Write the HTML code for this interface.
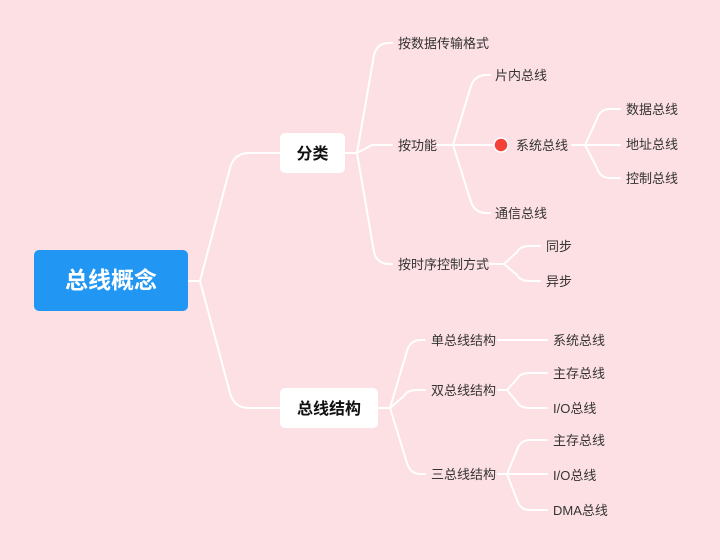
<!DOCTYPE html>
<html><head><meta charset="utf-8"><style>
body{margin:0;width:720px;height:560px;background:#fde0e4;overflow:hidden}
svg{display:block}
text{font-family:"Liberation Sans","Noto Sans CJK SC",sans-serif;fill:#333;font-size:13px;dominant-baseline:middle}
</style></head><body>
<svg width="720" height="560" viewBox="0 0 720 560">
<rect width="720" height="560" fill="#fde0e4"/>
<g fill="none" stroke="#fff" stroke-width="2" stroke-linecap="round">
<path d="M188 281 H200 L230 168 Q234 153 249 153 H280"/>
<path d="M200 281 L230 393 Q234 408 249 408 H280"/>
<path d="M345 153 H357 L374 55 Q377 43 389 43 H392"/>
<path d="M357 153 L372 145 H392"/>
<path d="M357 153 L374 252 Q377 264 389 264 H392"/>
<path d="M437 145 H453 L471 86 Q475 75 486 75 H490"/>
<path d="M453 145 H494"/>
<path d="M453 145 L471 202 Q475 213 486 213 H490"/>
<path d="M572 145 H585 L597 119 Q600 109 610 109 H620"/>
<path d="M585 145 H620"/>
<path d="M585 145 L597 168 Q600 178 610 178 H620"/>
<path d="M490 264 H504 L517 252 Q520 246 530 246 H540"/>
<path d="M504 264 L517 275 Q520 281 530 281 H540"/>
<path d="M378 408 H390 L407 351 Q410 340 421 340 H425"/>
<path d="M390 408 L404 396 Q407 390 417 390 H425"/>
<path d="M390 408 L407 463 Q410 474 421 474 H425"/>
<path d="M498 340 H547"/>
<path d="M498 390 H507 L517 379 Q520 373 530 373 H547"/>
<path d="M507 390 L517 402 Q520 408 530 408 H547"/>
<path d="M498 474 H507 L517 450 Q520 440 530 440 H547"/>
<path d="M507 474 H547"/>
<path d="M507 474 L517 500 Q520 510 530 510 H547"/>
</g>
<rect x="34" y="250" width="154" height="61" rx="5" fill="#2196f3"/>
<text x="111" y="282" text-anchor="middle" style="fill:#fff;font-size:23px;font-weight:bold">总线概念</text>
<rect x="280" y="133" width="65" height="40" rx="5" fill="#fff"/>
<text x="312.5" y="155" text-anchor="middle" style="fill:#111;font-size:16px;font-weight:bold">分类</text>
<rect x="280" y="388" width="98" height="40" rx="5" fill="#fff"/>
<text x="329" y="410" text-anchor="middle" style="fill:#111;font-size:16px;font-weight:bold">总线结构</text>
<circle cx="501" cy="145" r="7" fill="#f44336" stroke="#fff" stroke-width="1.5"/>
<g transform="translate(0,1.5)">
<text x="398" y="43">按数据传输格式</text>
<text x="398" y="145">按功能</text>
<text x="398" y="264">按时序控制方式</text>
<text x="495" y="75">片内总线</text>
<text x="516" y="145">系统总线</text>
<text x="495" y="213">通信总线</text>
<text x="626" y="109">数据总线</text>
<text x="626" y="144">地址总线</text>
<text x="626" y="178">控制总线</text>
<text x="546" y="246">同步</text>
<text x="546" y="281">异步</text>
<text x="431" y="340">单总线结构</text>
<text x="431" y="390">双总线结构</text>
<text x="431" y="474">三总线结构</text>
<text x="553" y="340">系统总线</text>
<text x="553" y="373">主存总线</text>
<text x="553" y="408">I/O总线</text>
<text x="553" y="440">主存总线</text>
<text x="553" y="475">I/O总线</text>
<text x="553" y="510">DMA总线</text>
</g>
</svg>
</body></html>
